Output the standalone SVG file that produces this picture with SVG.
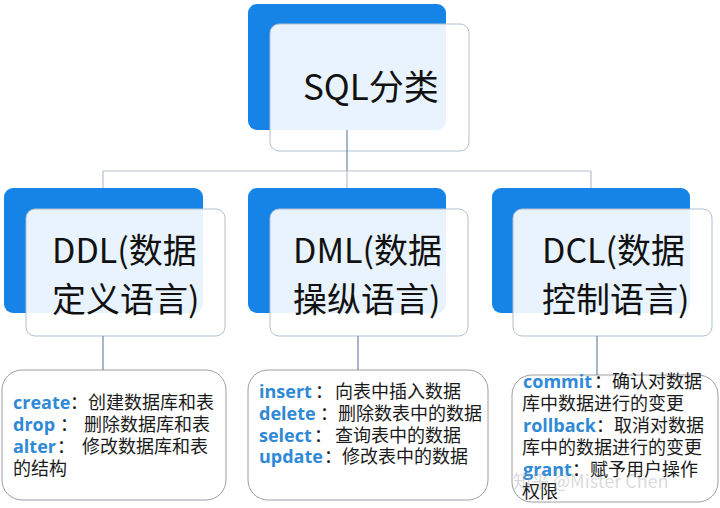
<svg xmlns="http://www.w3.org/2000/svg" width="720" height="508" viewBox="0 0 720 508">
<style>
.blue{fill:#1684e6}
.card{fill:#ffffff;fill-opacity:0.9;stroke:#b3bfcd;stroke-width:1}
.box{fill:#ffffff;stroke:#9a9fa6;stroke-width:1}
.title{font-family:"Noto Sans CJK SC","Noto Sans",sans-serif;font-size:34px;fill:#111}
.big{font-family:"Noto Sans CJK SC","Noto Sans",sans-serif;font-size:35px;fill:#111}
.t{font-family:"Noto Sans CJK SC","Noto Sans",sans-serif;font-size:18px;fill:#1a1a1a}
.k{font-family:"Open Sans","Noto Sans",sans-serif;font-weight:bold;font-size:18px;fill:#2f89d6}
.line{fill:none;stroke:#6f86a6;stroke-width:1.2}
.hline{fill:none;stroke:#b6c0cc;stroke-width:1.2}
.wm{font-family:"Noto Sans CJK SC","Noto Sans",sans-serif;font-size:18px;fill:#9aa0a8;fill-opacity:0.4}
</style>
<rect width="720" height="508" fill="#ffffff"/>
<g id="root">
<rect class="blue" x="248" y="4" width="198" height="126" rx="9"/>
<rect class="card" x="270" y="24" width="199" height="127" rx="9"/>
<text class="big" x="303" y="100">SQL分类</text>
</g>
<g id="ddl">
<rect class="blue" x="4" y="188" width="199" height="125" rx="9"/>
<rect class="card" x="26" y="209" width="199" height="127" rx="9"/>
<text class="title" x="52" y="263">DDL(数据</text>
<text class="title" x="52" y="312">定义语言)</text>
</g>
<g id="dml">
<rect class="blue" x="248" y="188" width="198" height="125" rx="9"/>
<rect class="card" x="270" y="209" width="198" height="127" rx="9"/>
<text class="title" x="293" y="263">DML(数据</text>
<text class="title" x="293" y="312">操纵语言)</text>
</g>
<g id="dcl">
<rect class="blue" x="492" y="188" width="198" height="125" rx="9"/>
<rect class="card" x="513" y="209" width="199" height="127" rx="9"/>
<text class="title" x="542" y="263">DCL(数据</text>
<text class="title" x="542" y="312">控制语言)</text>
</g>
<g id="ddl-detail">
<rect class="box" x="2" y="370" width="224" height="130" rx="20"/>
<text x="13" y="409"><tspan class="k">create</tspan><tspan class="t" x="70">：创建数据库和表</tspan></text>
<text x="13" y="431"><tspan class="k">drop</tspan><tspan class="t" x="60">：</tspan><tspan class="t" x="84">删除数据库和表</tspan></text>
<text x="13" y="453"><tspan class="k">alter</tspan><tspan class="t" x="57">：</tspan><tspan class="t" x="82">修改数据库和表</tspan></text>
<text class="t" x="13" y="475">的结构</text>
</g>
<g id="dml-detail">
<rect class="box" x="248" y="370" width="240" height="130" rx="20"/>
<text x="259" y="398"><tspan class="k">insert</tspan><tspan class="t" x="315">：</tspan><tspan class="t" x="335">向表中插入数据</tspan></text>
<text x="259" y="420"><tspan class="k">delete</tspan><tspan class="t" x="320">：删除数表中的数据</tspan></text>
<text x="259" y="442"><tspan class="k">select</tspan><tspan class="t" x="314">：</tspan><tspan class="t" x="335">查询表中的数据</tspan></text>
<text x="259" y="463"><tspan class="k">update</tspan><tspan class="t" x="324">：修改表中的数据</tspan></text>
</g>
<g id="dcl-detail">
<rect class="box" x="512" y="375" width="206" height="127" rx="20"/>
<text x="523" y="388"><tspan class="k">commit</tspan><tspan class="t" x="594">：确认对数据</tspan></text>
<text class="t" x="522" y="410">库中数据进行的变更</text>
<text x="523" y="432"><tspan class="k">rollback</tspan><tspan class="t" x="596">：取消对数据</tspan></text>
<text class="t" x="522" y="454">库中的数据进行的变更</text>
<text x="523" y="476"><tspan class="k">grant</tspan><tspan class="t" x="572">：赋予用户操作</tspan></text>
<text class="t" x="522" y="498">权限</text>
</g>
<g id="connectors">
<path class="line" d="M347 130 V171"/>
<path class="hline" d="M103 171 H591"/>
<path class="hline" d="M103 171 V188 M347 171 V188 M591 171 V188"/>
<path class="line" d="M103 336 V370 M358 336 V370 M597 336 V375"/>
</g>
<text class="wm" x="513" y="488">知乎 @Mister Chen</text>
</svg>
